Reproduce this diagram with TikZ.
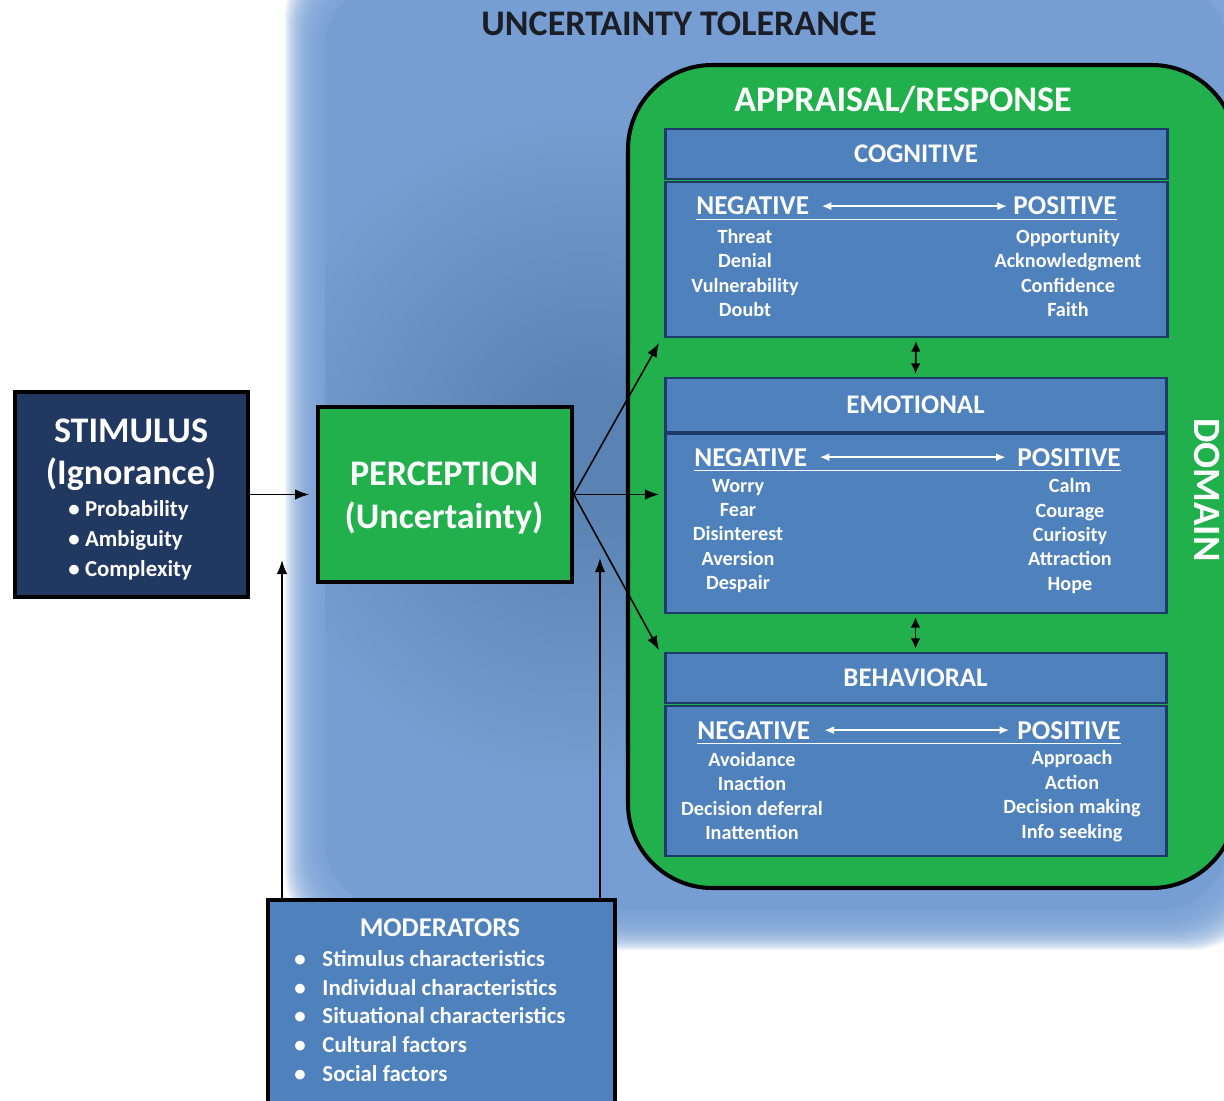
\documentclass[tikz,border=0pt]{standalone}
\usepackage{fontspec}
\setmainfont{Carlito}
\usetikzlibrary{shapes,arrows.meta,fit,backgrounds}
\definecolor{tolblue}{RGB}{118,158,211}
\definecolor{toldark}{RGB}{88,112,150}
\definecolor{titleink}{RGB}{28,30,38}
\definecolor{apgreen}{RGB}{33,176,76}
\definecolor{panelblue}{RGB}{79,129,189}
\definecolor{paneledge}{RGB}{30,58,104}
\definecolor{stimblue}{RGB}{33,56,97}
\tikzstyle{panel} = [draw=paneledge, fill=panelblue, line width=1.7pt, inner sep=0pt]
\tikzstyle{block} = [draw=black, line width=2pt, inner sep=0pt]
\tikzstyle{wtext} = [text=white, inner sep=0pt, font=\bfseries]
\tikzstyle{big} = [wtext, font=\bfseries\fontsize{20.5}{24}\selectfont]
\tikzstyle{head} = [wtext, font=\bfseries\fontsize{15.3}{18}\selectfont]
\tikzstyle{pole} = [wtext, font=\bfseries\fontsize{15.5}{18}\selectfont]
\tikzstyle{items} = [wtext, align=center, font=\bfseries\fontsize{11.5}{13.9}\selectfont]
\tikzstyle{bullets} = [wtext, align=left, anchor=west]
\tikzstyle{wline} = [white, line width=1pt, {Latex[length=5.5pt,width=4.6pt]}-{Latex[length=5.5pt,width=4.6pt]}]
\tikzstyle{link} = [->, black, line width=0.9pt]
\tikzstyle{twoway} = [{Latex[length=6pt,width=5.5pt]}-{Latex[length=6pt,width=5.5pt]}, line width=1pt, shorten <=1.5pt, shorten >=1.5pt]

\begin{document}
\begin{tikzpicture}[x=0.02cm, y=-0.02cm, >={Latex[length=8pt,width=6pt]}]
	\useasboundingbox (0,0) rectangle (1224,1101);
	\begin{scope}
		\clip (0,0) rectangle (1224,1101);
		\foreach \i in {0,2,...,40}
			\fill[tolblue, opacity=0.15, rounded corners=45pt] (285+\i,-60+\i) rectangle (1268-\i,950-\i);
		\clip[rounded corners=40pt] (325,-20) rectangle (1228,910);
		\fill[tolblue] (325,-20) rectangle (1228,910);
		\foreach \r in {60,70,...,330}
			\fill[toldark, opacity=0.02] (590,450) circle (\r);
	\end{scope}
	\node[font=\bfseries\fontsize{20.5}{24}\selectfont, text=titleink, inner sep=0pt] (tolerance) at (679,24) {UNCERTAINTY TOLERANCE};

	\node[draw=black, line width=2.3pt, fill=apgreen, rounded corners=48pt, inner sep=0pt, fit={(628,65) (1236,888)}] (appraisal) {};
	\node[big] (aptitle) at (903,100) {APPRAISAL/RESPONSE};
	\node[wtext, font=\bfseries\fontsize{22}{26}\selectfont, rotate=-90] (domain) at (1207,490) {DOMAIN};

	\node[panel, fit={(665,129) (1167,179)}] (coghead) {};
	\node[panel, fit={(665,182) (1167,337)}] (cogbody) {};
	\node[head] (cogtitle) at (coghead) {COGNITIVE};
	\node[pole, anchor=base west] (cogneg) at (696,215) {NEGATIVE};
	\node[pole, anchor=base east] (cogpos) at (1117,215) {POSITIVE};
	\draw[white, line width=1pt] ([yshift=-2.5pt]cogneg.base west) -- ([yshift=-2.5pt]cogpos.base east);
	\draw[wline] ([xshift=7pt]cogneg.east) -- ([xshift=-3.5pt]cogpos.west);
	\node[items] (cogleft) at (745,273) {Threat\\Denial\\Vulnerability\\Doubt};
	\node[items] (cogright) at (1068,273) {Opportunity\\Acknowledgment\\Confidence\\Faith};

	\node[panel, fit={(665,378) (1166,432)}] (emohead) {};
	\node[panel, fit={(665,434) (1166,613)}] (emobody) {};
	\node[head] (emotitle) at (emohead) {EMOTIONAL};
	\node[pole, anchor=base west] (emoneg) at (694,466) {NEGATIVE};
	\node[pole, anchor=base east] (emopos) at (1121,466) {POSITIVE};
	\draw[white, line width=1pt] ([yshift=-2.5pt]emoneg.base west) -- ([yshift=-2.5pt]emopos.base east);
	\draw[wline] ([xshift=7pt]emoneg.east) -- ([xshift=-6.5pt]emopos.west);
	\node[items] (emoleft) at (738,536) {Worry\\Fear\\Disinterest\\Aversion\\Despair};
	\node[items] (emoright) at (1070,536) {Calm\\Courage\\Curiosity\\Attraction\\Hope};

	\node[panel, fit={(665,653) (1166,703)}] (behhead) {};
	\node[panel, fit={(665,706) (1166,856)}] (behbody) {};
	\node[head] (behtitle) at (behhead) {BEHAVIORAL};
	\node[pole, anchor=base west] (behneg) at (697,739) {NEGATIVE};
	\node[pole, anchor=base east] (behpos) at (1121,739) {POSITIVE};
	\draw[white, line width=1pt] ([yshift=-2.5pt]behneg.base west) -- ([yshift=-2.5pt]behpos.base east);
	\draw[wline] ([xshift=8pt]behneg.east) -- ([xshift=-4.5pt]behpos.west);
	\node[items] (behleft) at (752,796) {Avoidance\\Inaction\\Decision deferral\\Inattention};
	\node[items] (behright) at (1072,796) {Approach\\Action\\Decision making\\Info seeking};

	\draw[twoway] (cogbody.south) -- (emohead.north);
	\draw[twoway] (emobody.south) -- (behhead.north);

	\node[block, fill=stimblue, fit={(15,392) (248,597)}] (stimulus) {};
	\node[big] (stimtitle) at (131,431) {STIMULUS};
	\node[big] (stimsub) at (131,474) {(Ignorance)};
	\node[bullets, font=\bfseries\fontsize{13}{17}\selectfont] (stimlist) at (68,540) {\makebox[9.5pt][l]{\textbullet}Probability\\\makebox[9.5pt][l]{\textbullet}Ambiguity\\\makebox[9.5pt][l]{\textbullet}Complexity};

	\node[block, fill=apgreen, fit={(318,407) (572,582)}] (perception) {};
	\node[big] (perctitle) at (444,474) {PERCEPTION};
	\node[big] (percsub) at (444,518) {(Uncertainty)};

	\node[block, fill=panelblue, fit={(268,900) (615,1115)}] (moderators) {};
	\node[wtext, font=\bfseries\fontsize{15.4}{18}\selectfont] (modtitle) at (440,928) {MODERATORS};
	\node[bullets, font=\bfseries\fontsize{13}{16.3}\selectfont] (modlist) at (294,1016) {\makebox[16pt][l]{\textbullet}Stimulus characteristics\\\makebox[16pt][l]{\textbullet}Individual characteristics\\\makebox[16pt][l]{\textbullet}Situational characteristics\\\makebox[16pt][l]{\textbullet}Cultural factors\\\makebox[16pt][l]{\textbullet}Social factors};

	\coordinate (tocog) at (659,343);
	\coordinate (tobeh) at (659,650);
	\coordinate (modleft) at (282,560);
	\coordinate (modright) at (600,558);
	\draw[link, line width=1.1pt, shorten >=4pt] (stimulus.east) -- (perception.west);
	\draw[link] (perception.east) -- (tocog);
	\draw[link] (perception.east) -- (perception.east -| tocog);
	\draw[link] (perception.east) -- (tobeh);
	\draw[link] (modleft |- moderators.north) -- (modleft);
	\draw[link] (modright |- moderators.north) -- (modright);
\end{tikzpicture}
\end{document}
